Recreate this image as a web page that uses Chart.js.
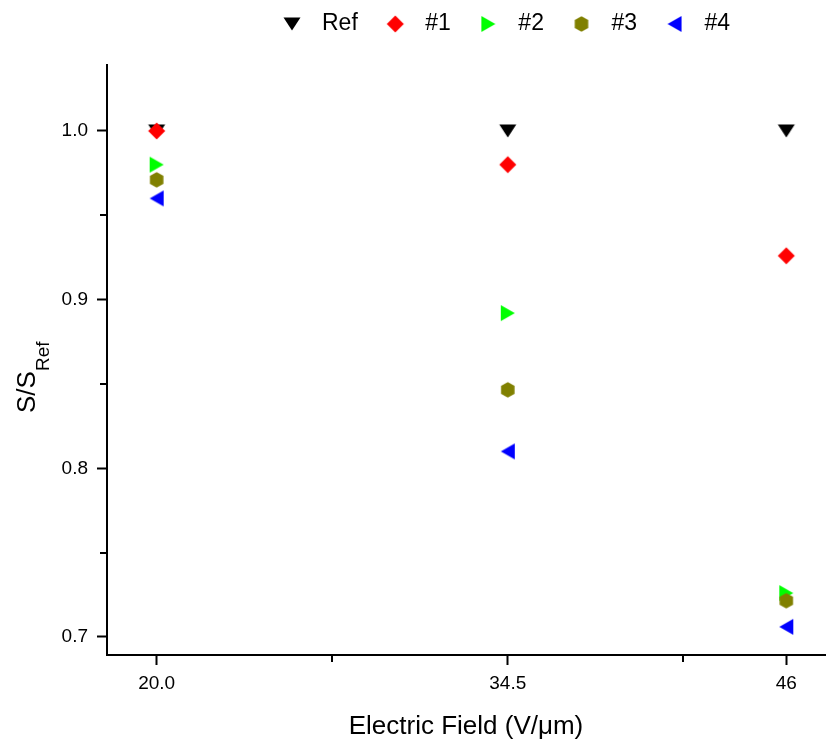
<!DOCTYPE html>
<html>
<head>
<meta charset="utf-8">
<script src="https://cdn.jsdelivr.net/npm/chart.js@4.4.0/dist/chart.umd.min.js"></script>
<style>
  html, body { margin: 0; padding: 0; background: #fff; }
  #wrap { width: 827px; height: 742px; }
</style>
</head>
<body>
<div id="wrap"><canvas id="chart" width="827" height="742"></canvas></div>
<script>
// Data
const fieldValues = [20, 34.5, 46];
const xTickValues = [20, 34.5, 46];
const xTickLabels = ['20.0', '34.5', '46'];
const xMinorTicks = [27.25, 41.75];
const yTickValues = [0.7, 0.8, 0.9, 1.0];
const yMinorTicks = [0.75, 0.85, 0.95];

const seriesNames = ['Ref', '#1', '#2', '#3', '#4'];
const refValues = [1.0, 1.0, 1.0];
const s1Values = [1.0, 0.980, 0.926];
const s2Values = [0.980, 0.892, 0.726];
const s3Values = [0.971, 0.8465, 0.7215];
const s4Values = [0.960, 0.810, 0.706];
const seriesValues = [refValues, s1Values, s2Values, s3Values, s4Values];
const seriesColors = ['#000000', '#ff0000', '#00ff00', '#808000', '#0000ff'];
const seriesShapes = ['triDown', 'diamond', 'triRight', 'hexagon', 'triLeft'];

const FONT = "'Liberation Sans', Arial, sans-serif";

// Marker glyphs drawn once on small canvases (used both in plot and legend)
const makeMarker = (shape, color) => {
  const c = document.createElement('canvas');
  c.width = 20;
  c.height = 20;
  const g = c.getContext('2d');
  const m = 10;
  g.fillStyle = color;
  g.beginPath();
  if (shape === 'triDown') {
    g.moveTo(m - 8.5, m - 6.5); g.lineTo(m + 8.5, m - 6.5); g.lineTo(m, m + 6.5);
  } else if (shape === 'diamond') {
    g.moveTo(m, m - 8.5); g.lineTo(m + 8.5, m); g.lineTo(m, m + 8.5); g.lineTo(m - 8.5, m);
  } else if (shape === 'triRight') {
    g.moveTo(m - 7, m - 8); g.lineTo(m + 7, m); g.lineTo(m - 7, m + 8);
  } else if (shape === 'triLeft') {
    g.moveTo(m + 7, m - 8); g.lineTo(m - 7, m); g.lineTo(m + 7, m + 8);
  } else if (shape === 'hexagon') {
    for (let i = 0; i < 6; i++) {
      const a = -Math.PI / 2 + i * Math.PI / 3;
      const px = m + 7.8 * Math.cos(a);
      const py = m + 7.8 * Math.sin(a);
      if (i === 0) g.moveTo(px, py); else g.lineTo(px, py);
    }
  }
  g.closePath();
  g.fill();
  return c;
};

const datasets = seriesNames.map((name, i) => ({
  label: name,
  data: fieldValues.map((x, j) => ({ x, y: seriesValues[i][j] })),
  pointStyle: makeMarker(seriesShapes[i], seriesColors[i]),
  backgroundColor: seriesColors[i],
  borderColor: seriesColors[i],
  pointRadius: 8,
  showLine: false,
  // later series are painted on top
  order: seriesNames.length - i,
}));

// Minor ticks, y title with subscript, legend placement
const extrasPlugin = {
  id: 'extras',
  afterLayout(chart) {
    // let the plot run up to the right edge like the original
    const area = chart.chartArea;
    const x = chart.scales.x;
    area.right = chart.width - 2;
    area.width = area.right - area.left;
    x.right = area.right;
    x.width = area.width;
    x.configure();
  },
  beforeDraw(chart) {
    const lg = chart.legend;
    if (lg) {
      lg.left = 254.5;
      lg.right = chart.width;
      lg.top = -6.5;
    }
  },
  afterDraw(chart) {
    const { ctx, scales, chartArea } = chart;
    ctx.save();
    ctx.strokeStyle = '#000';
    ctx.lineWidth = 2;
    ctx.beginPath();
    xMinorTicks.forEach((v) => {
      const px = Math.round(scales.x.getPixelForValue(v));
      ctx.moveTo(px, chartArea.bottom);
      ctx.lineTo(px, chartArea.bottom + 7);
    });
    yMinorTicks.forEach((v) => {
      const py = Math.round(scales.y.getPixelForValue(v));
      ctx.moveTo(chartArea.left, py);
      ctx.lineTo(chartArea.left - 7, py);
    });
    ctx.stroke();

    // S/S_Ref rotated title
    ctx.fillStyle = '#000';
    ctx.textBaseline = 'alphabetic';
    ctx.textAlign = 'left';
    ctx.translate(35, 413);
    ctx.rotate(-Math.PI / 2);
    ctx.font = `26px ${FONT}`;
    ctx.fillText('S/S', 0, 0);
    const w = ctx.measureText('S/S').width;
    ctx.font = `19px ${FONT}`;
    ctx.fillText('Ref', w, 14);
    ctx.restore();
  },
};

new Chart(document.getElementById('chart'), {
  type: 'scatter',
  data: { datasets },
  plugins: [extrasPlugin],
  options: {
    responsive: false,
    animation: false,
    layout: { padding: { left: 0, right: 2, top: 13, bottom: 0 } },
    plugins: {
      tooltip: { enabled: false },
      legend: {
        position: 'top',
        align: 'start',
        labels: {
          usePointStyle: true,
          pointStyleWidth: 37,
          padding: 19,
          color: '#000',
          font: { family: FONT, size: 23 },
          sort: (a, b) => a.datasetIndex - b.datasetIndex,
        },
      },
    },
    scales: {
      x: {
        type: 'linear',
        position: 'bottom',
        min: 17.95,
        max: 47.6,
        afterBuildTicks: (s) => { s.ticks = xTickValues.map((v) => ({ value: v })); },
        afterFit: (s) => { s.height = 87; },
        ticks: {
          callback: (v, i) => xTickLabels[i],
          color: '#000',
          font: { family: FONT, size: 19 },
          padding: 7,
          maxRotation: 0,
          autoSkip: false,
        },
        grid: { drawOnChartArea: false, tickLength: 10, tickWidth: 2, tickColor: '#000' },
        border: { color: '#000', width: 2 },
        title: {
          display: true,
          text: 'Electric Field (V/\u03bcm)',
          color: '#000',
          font: { family: FONT, size: 26 },
          padding: 0,
        },
      },
      y: {
        type: 'linear',
        min: 0.6893,
        max: 1.0391,
        afterBuildTicks: (s) => { s.ticks = yTickValues.map((v) => ({ value: v })); },
        afterFit: (s) => { s.width = 107; },
        ticks: {
          callback: (v) => v.toFixed(1),
          color: '#000',
          font: { family: FONT, size: 19 },
          padding: 9,
        },
        grid: { drawOnChartArea: false, tickLength: 10, tickWidth: 2, tickColor: '#000' },
        border: { color: '#000', width: 2 },
      },
    },
  },
});
</script>
</body>
</html>
